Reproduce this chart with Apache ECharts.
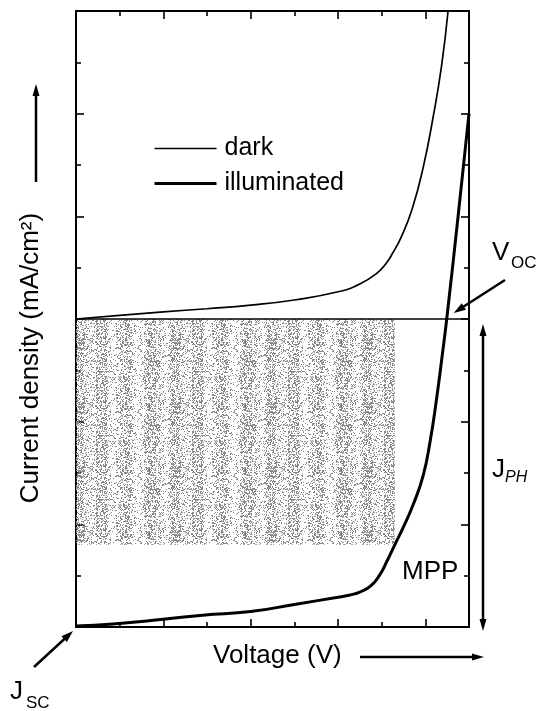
<!DOCTYPE html>
<html>
<head>
<meta charset="utf-8">
<script src="https://cdn.jsdelivr.net/npm/echarts@6/dist/echarts.min.js"></script>
<style>
  html, body { margin: 0; padding: 0; background: #fff; }
  #chart { width: 540px; height: 711px; }
</style>
</head>
<body>
<div id="chart"></div>
<script>
// J-V characteristics of a solar cell (arbitrary units on both axes)
const darkVoltage = [0, 1, 2, 3, 4, 5, 6, 6.5, 6.9, 7.1, 7.25, 7.45, 7.7, 7.95, 8.18, 8.37, 8.52];
const darkCurrent = [0, 0.07, 0.14, 0.2, 0.27, 0.37, 0.53, 0.68, 0.9, 1.08, 1.28, 1.6, 2.15, 2.95, 3.94, 4.92, 6.0];

const illumVoltage = [0, 0.85, 2, 2.9, 4, 5, 6, 6.25, 6.5, 6.75, 6.96, 7.12, 7.3, 7.5, 7.72, 7.95, 8.11, 8.25, 8.4, 8.49, 8.75, 9.0];
const illumCurrent = [-5.98, -5.94, -5.85, -5.77, -5.7, -5.56, -5.42, -5.38, -5.32, -5.2, -4.98, -4.72, -4.4, -4.05, -3.62, -3.05, -2.38, -1.6, -0.62, 0, 2.0, 4.0];

// characteristic points
const mppVoltage = 7.3;
const mppCurrent = -4.4;
const vocVoltage = 8.49;
const jscCurrent = -6.0;

// axis ranges and tick positions (no tick labels are printed)
const xRange = [0, 9];
const yRange = [-6, 6];
const xMajorTicks = [2, 4, 6, 8];
const xMinorTicks = [1, 3, 5, 7];
const yMajorTicks = [-4, -2, 0, 2, 4];
const yMinorTicks = [-5, -3, -1, 1, 3, 5];

const FONT = "'Liberation Sans', Arial, sans-serif";
const pair = (xs, ys) => xs.map((x, i) => [x, ys[i]]);

// stippled grey fill for the power rectangle, with faint vertical streaks
function stipple() {
  const w = 96, h = 64;
  const c = document.createElement('canvas');
  c.width = w; c.height = h;
  const g = c.getContext('2d');
  const band = [0.42, 0.4, 0.34, 0.18, 0.12, 0.22, 0.38, 0.42, 0.36, 0.2, 0.1, 0.16,
                0.32, 0.4, 0.38, 0.3, 0.16, 0.12, 0.28, 0.4, 0.42, 0.34, 0.2, 0.26];
  g.fillStyle = '#8a8a8a';
  for (let i = 0; i < w; i++) {
    const d = band[Math.floor(i / 4) % band.length];
    for (let j = 0; j < h; j++) {
      const t = (((i * 73856093) ^ (j * 19349663) ^ ((i + j) * 83492791)) >>> 0) % 1000 / 1000;
      if (t < d) g.fillRect(i, j, 1, 1);
    }
  }
  return c;
}

function frameAxis(kind, position, ticks, len) {
  return {
    type: 'value', gridIndex: 0, position,
    min: kind === 'x' ? xRange[0] : yRange[0],
    max: kind === 'x' ? xRange[1] : yRange[1],
    axisLine: { show: true, onZero: false, lineStyle: { color: '#000', width: 2 } },
    axisTick: { show: true, inside: true, length: len, customValues: ticks,
                lineStyle: { color: '#000', width: 1.6 } },
    axisLabel: { show: false },
    splitLine: { show: false }
  };
}

const chart = echarts.init(document.getElementById('chart'), null, { renderer: 'canvas' });

const option = {
  animation: false,
  backgroundColor: '#fff',
  grid: { left: 76, right: 71, top: 11, bottom: 84, containLabel: false },
  xAxis: [
    frameAxis('x', 'bottom', xMajorTicks, 8),
    frameAxis('x', 'bottom', xMinorTicks, 5),
    frameAxis('x', 'top', xMajorTicks, 8),
    frameAxis('x', 'top', xMinorTicks, 5)
  ],
  yAxis: [
    frameAxis('y', 'left', yMajorTicks, 8),
    frameAxis('y', 'left', yMinorTicks, 5),
    frameAxis('y', 'right', yMajorTicks, 8),
    frameAxis('y', 'right', yMinorTicks, 5)
  ],
  legend: {
    orient: 'vertical', left: 153, top: 136, padding: 0,
    itemWidth: 62, itemHeight: 14, itemGap: 10,
    itemStyle: { opacity: 0 },
    textStyle: { fontFamily: FONT, fontSize: 25, color: '#000', padding: [0, 0, 0, 3] },
    data: [
      { name: 'dark', lineStyle: { width: 1.7 } },
      { name: 'illuminated', lineStyle: { width: 3 } }
    ]
  },
  series: [
    {
      name: 'dark', type: 'line', data: pair(darkVoltage, darkCurrent),
      symbol: 'none', smooth: 0.5,
      lineStyle: { color: '#000', width: 1.7 },
      itemStyle: { color: '#000' },
      markLine: {
        silent: true, symbol: 'none', label: { show: false },
        lineStyle: { color: '#000', width: 1.5, type: 'solid' },
        data: [{ yAxis: 0 }]
      },
      z: 3
    },
    {
      name: 'illuminated', type: 'line', data: pair(illumVoltage, illumCurrent),
      symbol: 'none', smooth: 0.5,
      lineStyle: { color: '#000', width: 3 },
      itemStyle: { color: '#000' },
      markArea: {
        silent: true,
        itemStyle: { color: { image: stipple(), repeat: 'repeat' }, opacity: 1 },
        data: [[{ coord: [0, 0] }, { coord: [mppVoltage, mppCurrent] }]]
      },
      z: 4
    }
  ]
};
chart.setOption(option);

// annotations: axis titles, direction arrows and labelled points
function arrow(x1, y1, x2, y2, lw, headLen, headHalf) {
  const dx = x2 - x1, dy = y2 - y1, L = Math.hypot(dx, dy);
  const ux = dx / L, uy = dy / L;
  const bx = x2 - ux * headLen, by = y2 - uy * headLen;
  return [
    { type: 'line', shape: { x1, y1, x2: bx + ux, y2: by + uy },
      style: { stroke: '#000', lineWidth: lw }, z: 50 },
    { type: 'polygon', shape: { points: [[x2, y2],
        [bx - uy * headHalf, by + ux * headHalf], [bx + uy * headHalf, by - ux * headHalf]] },
      style: { fill: '#000' }, z: 50 }
  ];
}
// text placed by the top of its box
function text(x, y, str, font) {
  return { type: 'text', x, y, z: 50,
           style: { text: str, font: font + ' ' + FONT, fill: '#000', verticalAlign: 'top' } };
}

const px = (v, c) => chart.convertToPixel({ xAxisIndex: 0, yAxisIndex: 0 }, [v, c]);
const vocPt = px(vocVoltage, 0);
const jscPt = px(0, jscCurrent);
const zeroY = px(0, 0)[1];
const rightX = px(xRange[1], 0)[0];

const elements = [];
// y axis title, rotated
elements.push({
  type: 'text', x: 44, y: 358, rotation: Math.PI / 2, z: 50,
  style: { text: 'Current density (mA/cm²)', font: '26px ' + FONT, fill: '#000',
           align: 'center', verticalAlign: 'bottom' }
});
elements.push(...arrow(36, 182, 36, 84, 2.5, 12, 3.5));
// x axis title
elements.push(text(213, 643, 'Voltage (V)', '26px'));
elements.push(...arrow(360, 657, 484, 657, 2.5, 12, 3.5));
// open-circuit voltage
elements.push(text(492, 240, 'V', '26px'));
elements.push(text(511, 255, 'OC', '17px'));
elements.push(...arrow(505, 280, vocPt[0] + 7, vocPt[1] - 6, 2.5, 12, 4));
// photocurrent span
elements.push(...arrow(rightX + 14, (zeroY + jscPt[1]) / 2, rightX + 14, zeroY + 5, 2.5, 12, 3.5));
elements.push(...arrow(rightX + 14, (zeroY + jscPt[1]) / 2, rightX + 14, jscPt[1] + 4, 2.5, 12, 3.5));
elements.push(text(492, 457, 'J', '26px'));
elements.push(text(505, 470, 'PH', 'italic 16px'));
// maximum power point
elements.push(text(402, 559, 'MPP', '26px'));
// short-circuit current
elements.push(text(10, 679, 'J', '26px'));
elements.push(text(26, 695, 'SC', '17px'));
elements.push(...arrow(34, 667, jscPt[0] - 3, jscPt[1] + 4, 2.5, 12, 4));

chart.setOption({ graphic: { elements } });
</script>
</body>
</html>
